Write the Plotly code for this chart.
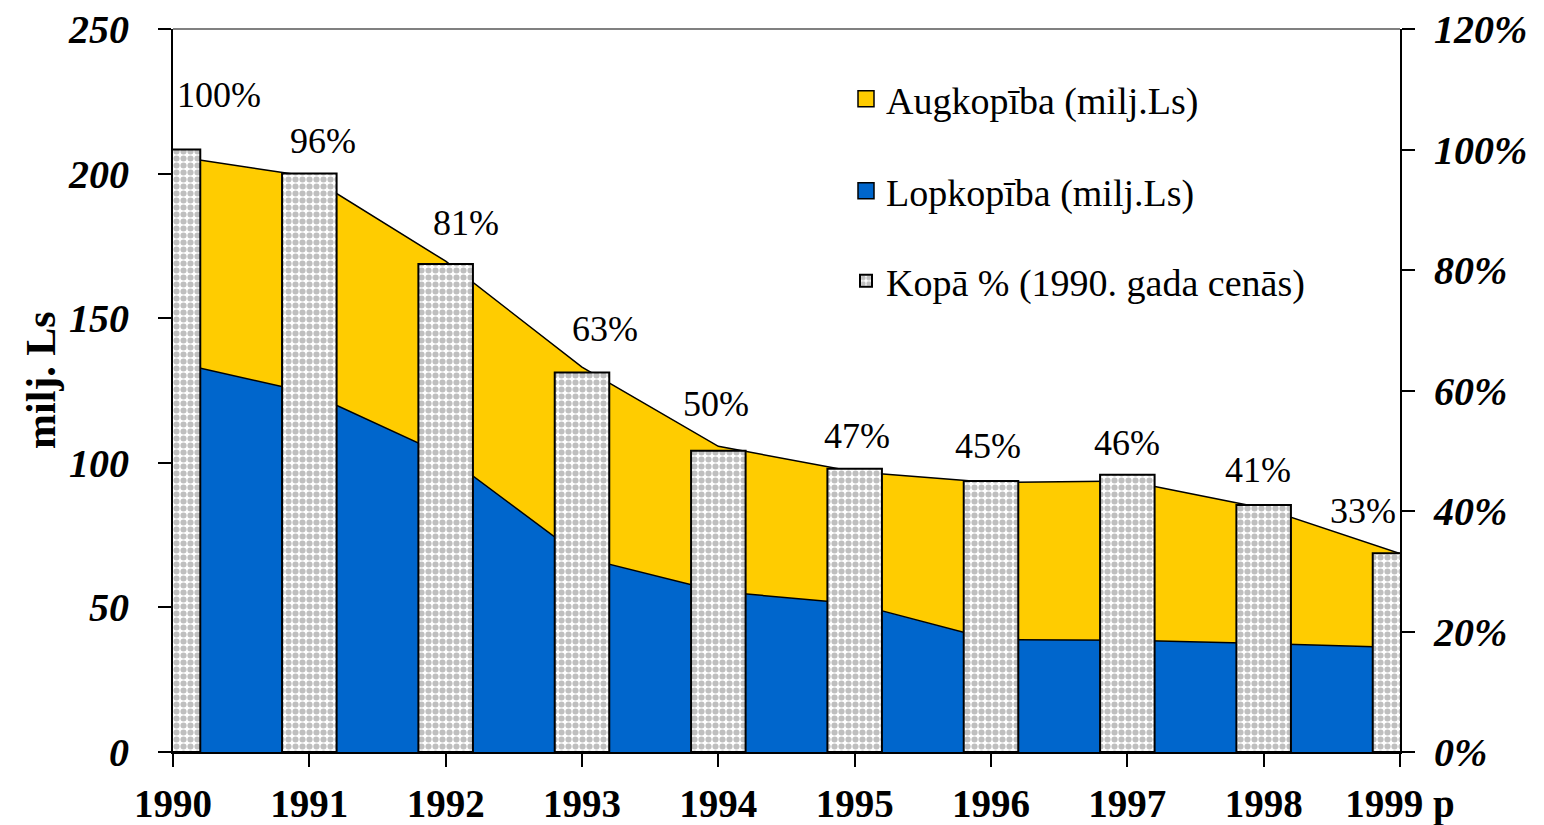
import plotly.graph_objects as go

years = [1990, 1991, 1992, 1993, 1994, 1995, 1996, 1997, 1998, 1999]
year_labels = ["1990", "1991", "1992", "1993", "1994", "1995", "1996", "1997", "1998", "1999 p"]
lopkopiba = [134.9, 124.2, 102.5, 67.3, 55.5, 51.3, 38.9, 38.6, 37.5, 36.1]
augkopiba = [71.2, 74.8, 67.2, 65.8, 50.2, 45.6, 54.3, 55.1, 46.8, 32.5]
kopa_pct = [100, 96, 81, 63, 50, 47, 45, 46, 41, 33]

# label offsets (pixels) for the percentage labels
label_dx = [46, 14, 20, 23, -2, 2, -3, 0, -6, -37]
label_dy = [55, 33, 41, 43, 47, 33, 35, 32, 35, 42]

SERIF = "Liberation Serif"
BLUE, YELLOW = "#0066CC", "#FFCC00"
pattern = dict(shape=".", fgcolor="#7f7f7f", bgcolor="white", size=7, solidity=0.6)

fig = go.Figure()
fig.add_trace(go.Scatter(
    x=years, y=lopkopiba, name="Lopkopība (milj.Ls)", stackgroup="one",
    mode="lines", line=dict(color="black", width=1.5), fillcolor=BLUE,
    showlegend=False,
))
fig.add_trace(go.Scatter(
    x=years, y=augkopiba, name="Augkopība (milj.Ls)", stackgroup="one",
    mode="lines", line=dict(color="black", width=1.5), fillcolor=YELLOW,
    showlegend=False,
))
fig.add_trace(go.Bar(
    x=years, y=kopa_pct, yaxis="y2", width=0.4, name="Kopā % (1990. gada cenās)",
    marker=dict(color="white", line=dict(color="black", width=2), pattern=pattern),
    legend="legend3",
))
# legend-only entries for the area series (square swatches)
fig.add_trace(go.Scatter(x=[None], y=[None], mode="markers", name="Augkopība (milj.Ls)", legend="legend",
                         marker=dict(symbol="square", size=16, color=YELLOW, line=dict(color="black", width=1.5))))
fig.add_trace(go.Scatter(x=[None], y=[None], mode="markers", name="Lopkopība (milj.Ls)", legend="legend2",
                         marker=dict(symbol="square", size=16, color=BLUE, line=dict(color="black", width=1.5))))

for yr, p, dx, dy in zip(years, kopa_pct, label_dx, label_dy):
    fig.add_annotation(x=yr, y=p, xref="x", yref="y2", text=f"{p}%", showarrow=False,
                       xanchor="center", yanchor="middle", xshift=dx, yshift=dy,
                       font=dict(family=SERIF, size=36, color="black"))

# page body has an 8px margin: figure origin is at (8, 8) in the screenshot
OFF = 8
W, H = 1544 - OFF, 825 - OFF
L, T = 173 - OFF, 29 - OFF
pw, ph = 1400 - 173, 752 - 29
R, B = W - L - pw, H - T - ph

def py(pix):
    return (752 - pix) / ph

def px(pix):
    return (pix - 173) / pw

# y-axis title
fig.add_annotation(x=px(41), y=py(380), xref="paper", yref="paper", text="milj. Ls", showarrow=False,
                   textangle=-90, xanchor="center", yanchor="middle",
                   font=dict(family=SERIF, size=42, color="black", weight="bold"))

legfont = dict(family=SERIF, size=38, color="black")
leg_common = dict(x=px(846), xanchor="left", yanchor="middle", bgcolor="rgba(0,0,0,0)", font=legfont,
                  itemsizing="trace")

tickfont_it = dict(family=SERIF, size=40, color="black", weight="bold", style="italic")

fig.update_layout(
    width=W, height=H,
    margin=dict(l=L, r=R, t=T, b=B, autoexpand=False),
    paper_bgcolor="white", plot_bgcolor="white",
    barmode="overlay",
    showlegend=True,
    legend=dict(y=py(99), **leg_common),
    legend2=dict(y=py(191), **leg_common),
    legend3=dict(y=py(281), **leg_common),
    xaxis=dict(range=[1990, 1999], tickmode="array", tickvals=years, ticktext=year_labels,
               ticks="outside", ticklen=13, tickwidth=2, tickcolor="black", automargin=False,
               showline=True, linecolor="black", linewidth=2, showgrid=False, zeroline=False,
               tickfont=dict(family=SERIF, size=39, color="black", weight="bold"),
               ticklabelstandoff=3, ticklabeloverflow="allow"),
    yaxis=dict(range=[0, 250], dtick=50, ticks="outside", ticklen=13, tickwidth=2, tickcolor="black",
               showline=True, linecolor="black", linewidth=2, showgrid=False, zeroline=False,
               automargin=False, tickfont=tickfont_it, ticklabelstandoff=21, ticklabeloverflow="allow"),
    yaxis2=dict(range=[0, 120], dtick=20, ticksuffix="%", overlaying="y", side="right",
                ticks="outside", ticklen=13, tickwidth=2, tickcolor="black", automargin=False,
                showline=True, linecolor="black", linewidth=2, showgrid=False, zeroline=False,
                tickfont=tickfont_it, ticklabelstandoff=11, ticklabeloverflow="allow"),
    shapes=[dict(type="line", xref="paper", yref="paper", x0=0, x1=1, y0=1, y1=1,
                 line=dict(color="#808080", width=2))],
)

fig.write_html("out.html")
